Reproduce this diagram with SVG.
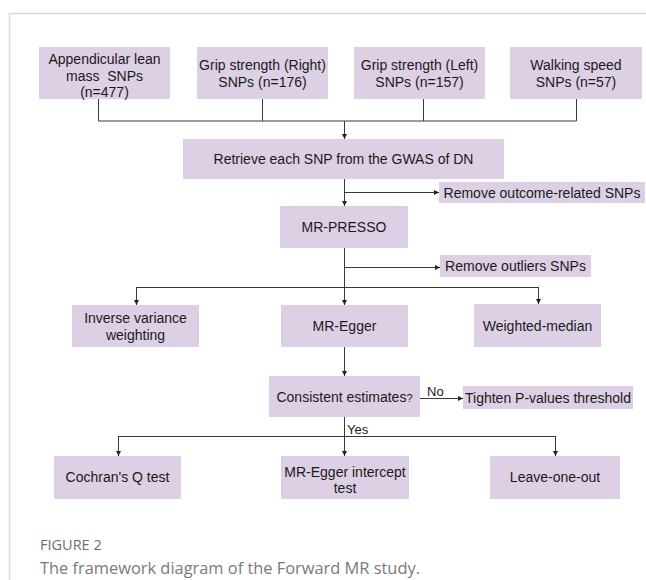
<svg xmlns="http://www.w3.org/2000/svg" width="646" height="580" viewBox="0 0 646 580">
<defs>
<marker id="ah" markerWidth="6" markerHeight="6" refX="5" refY="3" orient="auto" markerUnits="userSpaceOnUse">
<path d="M0,0.5 L5,3 L0,5.5 Z" fill="#222"/>
</marker>
<style>
.box{fill:#ddd0e5;}
.t{font-family:"Liberation Sans",Arial,sans-serif;font-size:14px;fill:#1a1a1a;text-anchor:middle;}
.s{font-family:"Liberation Sans",Arial,sans-serif;font-size:13px;fill:#1a1a1a;}
.c{fill:none;stroke:#3a3a3a;stroke-width:1;}
.a{fill:none;stroke:#3a3a3a;stroke-width:1;marker-end:url(#ah);}
.frame{fill:none;stroke:#d9d9d9;stroke-width:1.5;}
.cap{font-family:"Open Sans","Noto Sans",sans-serif;}
</style>
</defs>
<rect width="646" height="580" fill="#ffffff"/>
<path class="frame" d="M9.5,580 V13.5 H646"/>

<g id="n-alm"><rect class="box" x="39" y="47" width="131" height="52"/>
<text class="t" x="104.5" y="64">Appendicular lean</text>
<text class="t" x="104.5" y="81" xml:space="preserve">mass  SNPs</text>
<text class="t" x="104.5" y="97">(n=477)</text></g>

<g id="n-gsr"><rect class="box" x="197" y="47" width="131" height="52"/>
<text class="t" x="262.5" y="70">Grip strength (Right)</text>
<text class="t" x="262.5" y="87">SNPs (n=176)</text></g>

<g id="n-gsl"><rect class="box" x="354" y="47" width="131" height="52"/>
<text class="t" x="419.5" y="70">Grip strength (Left)</text>
<text class="t" x="419.5" y="87">SNPs (n=157)</text></g>

<g id="n-ws"><rect class="box" x="510" y="47" width="132" height="52"/>
<text class="t" x="576" y="70">Walking speed</text>
<text class="t" x="576" y="87">SNPs (n=57)</text></g>

<g id="n-retrieve"><rect class="box" x="183" y="139" width="321" height="40"/>
<text class="t" x="343.5" y="164">Retrieve each SNP from the GWAS of DN</text></g>

<g id="n-remove1"><rect class="box" x="439" y="182" width="206" height="21"/>
<text class="t" x="542" y="197.5">Remove outcome-related SNPs</text></g>

<g id="n-presso"><rect class="box" x="280" y="206" width="128" height="42"/>
<text class="t" x="344" y="232">MR-PRESSO</text></g>

<g id="n-remove2"><rect class="box" x="440" y="255" width="151" height="22"/>
<text class="t" x="515.5" y="271">Remove outliers SNPs</text></g>

<g id="n-ivw"><rect class="box" x="72" y="305" width="127" height="42"/>
<text class="t" x="135.5" y="323">Inverse variance</text>
<text class="t" x="135.5" y="340">weighting</text></g>

<g id="n-egger"><rect class="box" x="281" y="305" width="127" height="42"/>
<text class="t" x="344.5" y="331">MR-Egger</text></g>

<g id="n-wm"><rect class="box" x="474" y="304" width="127" height="43"/>
<text class="t" x="537.5" y="331">Weighted-median</text></g>

<g id="n-consistent"><rect class="box" x="269" y="376" width="151" height="41"/>
<text class="t" x="344.5" y="402">Consistent estimates<tspan font-size="11px">?</tspan></text></g>

<g id="n-tighten"><rect class="box" x="463" y="386" width="170" height="23"/>
<text class="t" x="548" y="403">Tighten P-values threshold</text></g>

<g id="n-cochran"><rect class="box" x="54" y="456" width="127" height="43"/>
<text class="t" x="117.5" y="482">Cochran's Q test</text></g>

<g id="n-intercept"><rect class="box" x="281" y="456" width="128" height="43"/>
<text class="t" x="345" y="477">MR-Egger intercept</text>
<text class="t" x="345" y="493">test</text></g>

<g id="n-loo"><rect class="box" x="490" y="456" width="130" height="43"/>
<text class="t" x="555" y="482">Leave-one-out</text></g>

<g id="connectors">
<path class="c" d="M98.5,99 V121 M262.5,99 V121 M423.5,99 V121 M576.5,99 V121 M98.5,121 H576.5"/>
<path class="a" d="M344.5,121 V139"/>
<path class="c" d="M344.5,179 V192"/>
<path class="a" d="M344.5,192 V206"/>
<path class="a" d="M344.5,192.5 H439"/>
<path class="c" d="M344.5,248 V287"/>
<path class="a" d="M344.5,267.5 H440"/>
<path class="c" d="M136.5,287.5 H538.5"/>
<path class="a" d="M136.5,287 V305"/>
<path class="a" d="M344.5,287 V305"/>
<path class="a" d="M538.5,287 V304"/>
<path class="a" d="M344.5,347 V376"/>
<path class="a" d="M420,398.5 H463"/>
<path class="c" d="M344.5,417 V436"/>
<path class="c" d="M118.5,436.5 H555.5"/>
<path class="a" d="M118.5,436 V456"/>
<path class="a" d="M344.5,436 V456"/>
<path class="a" d="M555.5,436 V456"/>
<text class="s" x="427" y="396">No</text>
<text class="s" x="347" y="434">Yes</text>
</g>

<text class="cap" x="40" y="550" font-size="14.5px" fill="#6e6e6e">FIGURE 2</text>
<text class="cap" x="40" y="574" font-size="16.4px" fill="#7a7a7a">The framework diagram of the Forward MR study.</text>
</svg>
